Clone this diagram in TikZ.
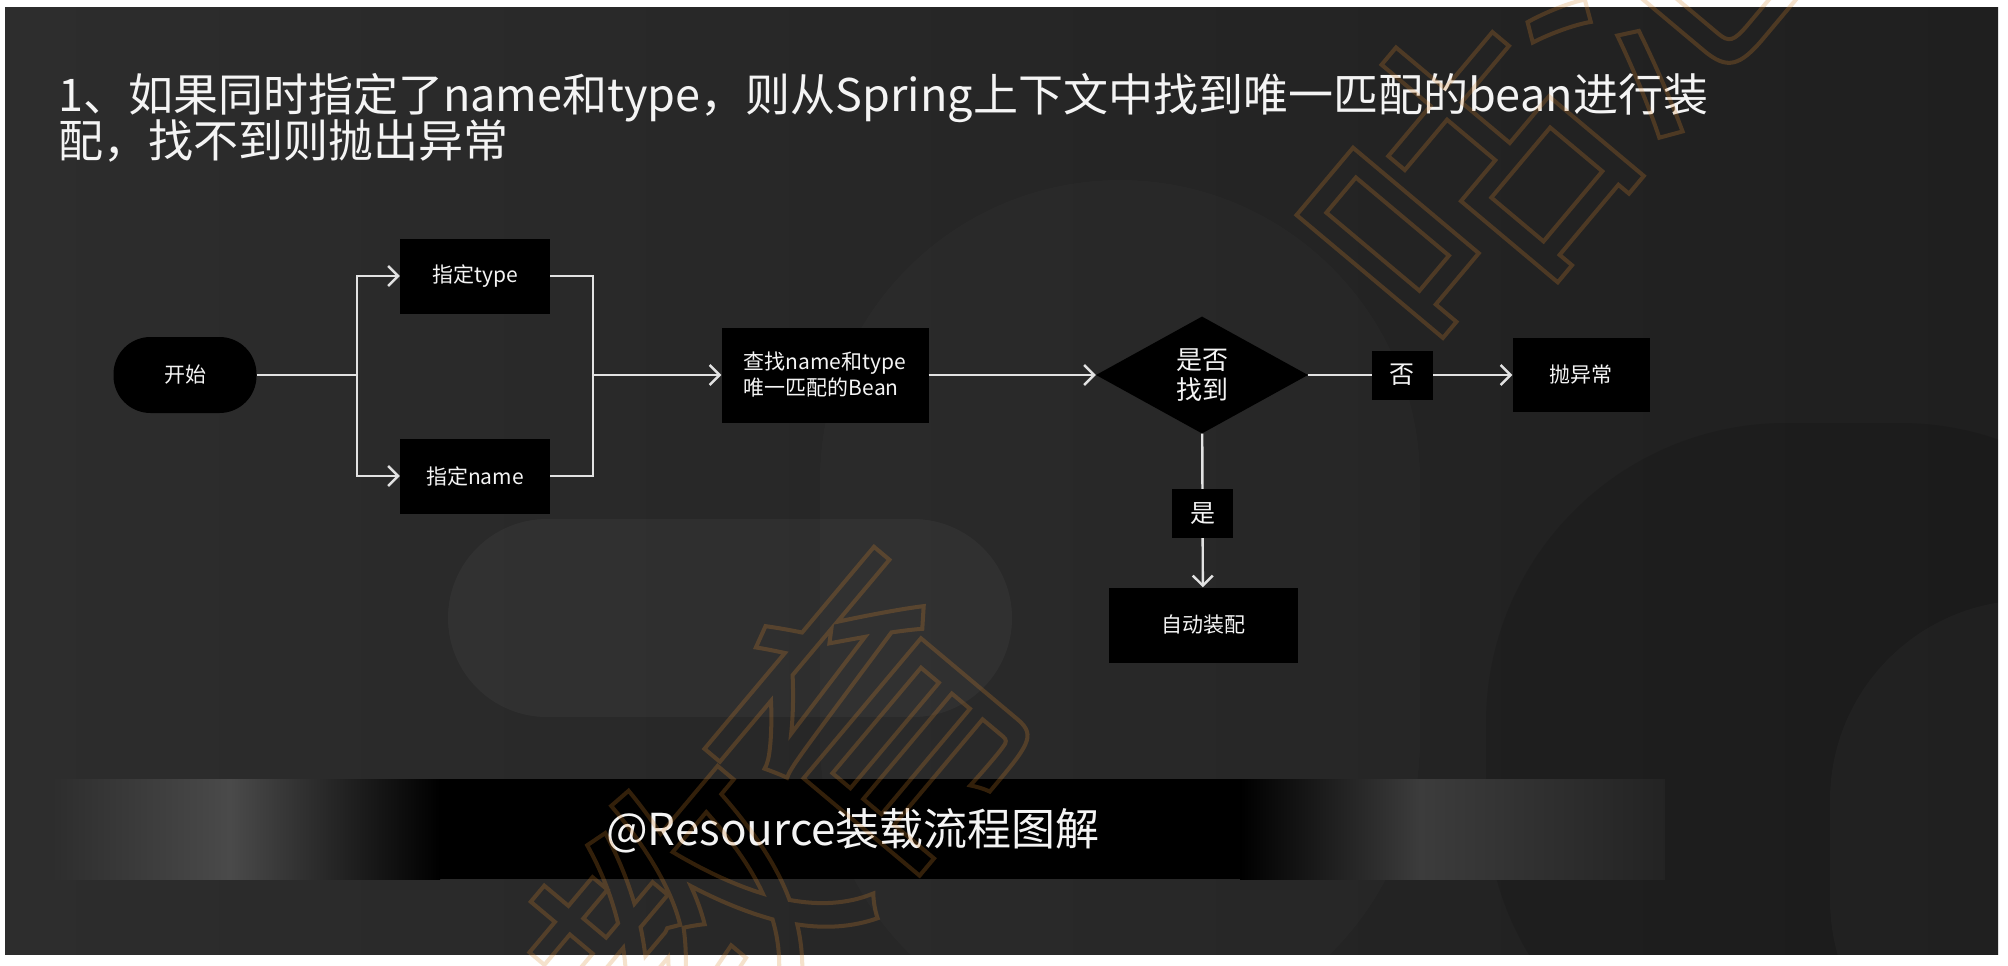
\documentclass[tikz,border=0pt]{standalone}
\usepackage{fontspec}
\setmainfont{Noto Sans CJK SC}
\usepackage{tikz}
\usetikzlibrary{arrows.meta, shapes.geometric}
\definecolor{bgleft}{HTML}{2D2D2D}
\definecolor{bgright}{HTML}{1F1F1F}
\definecolor{lineC}{HTML}{E2E2E2}
\definecolor{textC}{HTML}{F4F4F4}
\definecolor{bandL}{HTML}{4A4A4A}
\definecolor{bandR}{HTML}{3C3C3C}
\definecolor{wmC}{HTML}{D9862C}
\newcommand\wmstroke{\special{pdf:literal direct 1 Tr 4 w}}

\begin{document}
\begin{tikzpicture}[x=1pt, y=-1pt,
    procbox/.style={fill=black, text=textC, inner sep=0pt, font=\fontsize{21}{26}\selectfont},
    startnode/.style={procbox, rounded corners=37pt, minimum width=143pt, minimum height=76pt},
    decision/.style={diamond, aspect=1.8, fill=black, text=textC, inner sep=0pt, align=center,
        minimum width=212pt, minimum height=117pt, font=\fontsize{26}{30}\selectfont},
    lbl/.style={fill=black, text=textC, inner sep=0pt, minimum width=61pt, minimum height=49pt,
        font=\fontsize{25}{28}\selectfont},
    link/.style={draw=lineC, line width=2.4pt},
    linkarrow/.style={link, -{Straight Barb[length=10pt, width=20pt]}},
    wmtext/.style={text=wmC, opacity=0.24, rotate=50, inner sep=0pt, font=\fontsize{300}{300}\selectfont}]

    \useasboundingbox (0,0) rectangle (2008,966);
    \fill[white] (0,0) rectangle (2008,966);
    \fill[left color=bgleft, right color=bgright] (5,8) rectangle (1998,954);

    \begin{scope}
        \clip (5,8) rectangle (1998,954);
        \fill[white, opacity=0.015, rounded corners=300pt] (820,180) rectangle (1420,1040);
        \fill[white, opacity=0.035, rounded corners=99pt] (448,519) rectangle (1012,717);
        \fill[black, opacity=0.1, rounded corners=300pt] (1486,423) rectangle (2200,1100);
        \fill[white, opacity=0.025, rounded corners=200pt] (1830,600) rectangle (2200,1100);
    \end{scope}

    \node[anchor=base west, inner sep=0pt, text=textC, font=\fontsize{45}{47}\selectfont] (title1) at (58,111)
        {1、如果同时指定了name和type，则从Spring上下文中找到唯一匹配的bean进行装};
    \node[anchor=base west, inner sep=0pt, text=textC, font=\fontsize{45}{47}\selectfont] (title2) at (58,157)
        {配，找不到则抛出异常};

    \node[startnode] (start) at (185,375) {开始};
    \node[procbox, minimum width=150pt, minimum height=75pt] (type) at (475,276) {指定type};
    \node[procbox, minimum width=150pt, minimum height=75pt] (name) at (475,476) {指定name};
    \node[procbox, minimum width=207pt, minimum height=95pt, align=left] (find) at (825,375)
        {查找name和type\\唯一匹配的Bean};
    \node[decision] (found) at (1202,375) {是否\\找到};
    \node[procbox, minimum width=137pt, minimum height=74pt] (throw) at (1581,375) {抛异常};
    \node[procbox, minimum width=189pt, minimum height=75pt] (wire) at (1203,625) {自动装配};

    \coordinate (fork) at (357,375);
    \coordinate (join) at (593,375);
    \draw[link] (start) -- (fork);
    \draw[linkarrow] (fork) |- (type);
    \draw[linkarrow] (fork) |- (name);
    \draw[link] (type) -| (join);
    \draw[link] (name) -| (join);
    \draw[linkarrow] (join) -- (find);
    \draw[linkarrow] (find) -- (found);
    \draw[linkarrow] (found) -- node[lbl, pos=0.46] (no) {否} (throw);
    \draw[linkarrow] (found) -- node[lbl, pos=0.52] (yes) {是} (wire);

    \fill[black] (440,779) rectangle (1240,879);
    \fill[left color=bgleft, right color=bandL] (51,779) rectangle (230,879);
    \fill[left color=bandL, right color=black] (230,779) rectangle (440,879);
    \fill[left color=black, right color=bandR] (1240,779) rectangle (1420,879);
    \fill[left color=bandR, right color=bgright!70!bgleft] (1420,779) rectangle (1665,879);
    \node[text=textC, inner sep=0pt, font=\fontsize{44}{48}\selectfont] (caption) at (853,831)
        {@Resource装载流程图解};

    \node[wmtext] (wmGu) at (1460,185) {\wmstroke 咕};
    \node[wmtext] (wmPao) at (1650,-40) {\wmstroke 泡};
    \node[wmtext] (wmJiao) at (692,925) {\wmstroke 教};
    \node[wmtext] (wmYu) at (871,717) {\wmstroke 育};
\end{tikzpicture}
\end{document}
